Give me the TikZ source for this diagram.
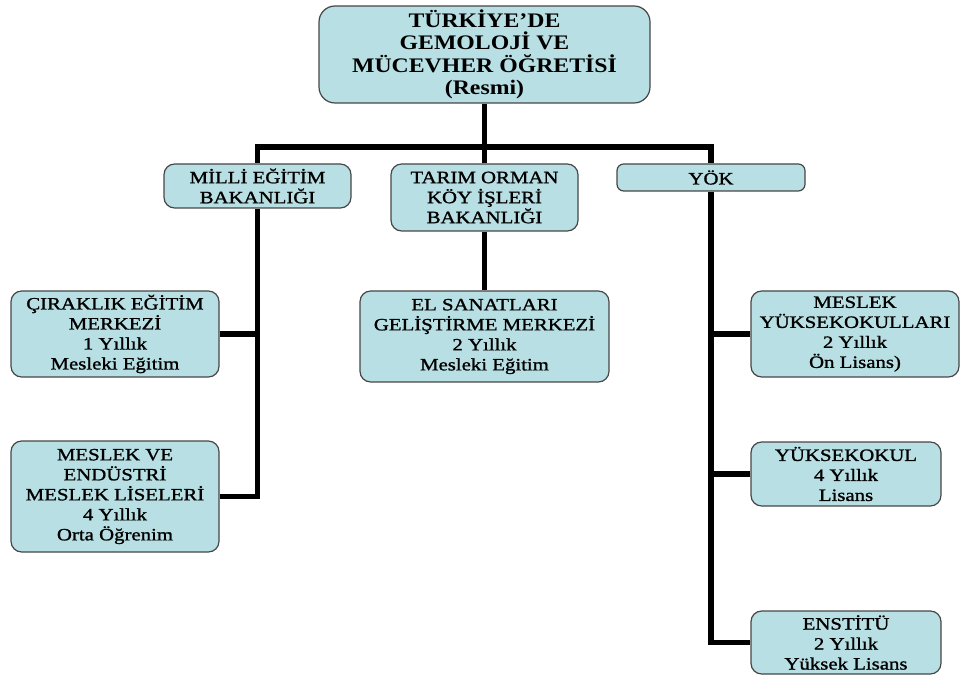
\documentclass[tikz,border=0pt]{standalone}
\usepackage{fontspec}
\setmainfont{Liberation Serif}
\newfontfamily\titlefont[FakeStretch=1.15]{Liberation Serif}
\newfontfamily\lowfont[FakeStretch=1.2,FakeBold=1.2]{Liberation Serif}
\definecolor{boxfill}{RGB}{184,223,227}
\definecolor{boxline}{RGB}{70,70,70}
\begin{document}
\begin{tikzpicture}[x=0.75pt,y=-0.75pt,
  box/.style={draw=boxline, line width=0.9pt, fill=boxfill, rounded corners=8pt,
    inner sep=0pt, align=center, anchor=center},
  titlebox/.style={box, rounded corners=12pt, font=\titlefont\bfseries\fontsize{15.5}{16.8}\selectfont},
  midbox/.style={box, font=\lowfont\fontsize{13}{15}\selectfont},
  lowbox/.style={box, font=\lowfont\fontsize{13}{15}\selectfont},
  conn/.style={line width=3.8pt, black, line join=miter}]
\useasboundingbox (0,0) rectangle (961,677);
% nodes
\node[titlebox, minimum width=248.25pt, minimum height=72.75pt] (top) at (484.5,54.5)
  {TÜRKİYE’DE\\GEMOLOJİ VE\\MÜCEVHER ÖĞRETİSİ\\(Resmi)};
\node[midbox, minimum width=140.25pt, minimum height=33pt] (meb) at (257.5,186)
  {MİLLİ EĞİTİM\\BAKANLIĞI};
\node[midbox, minimum width=140.25pt, minimum height=50.25pt] (tarim) at (484.5,197.5)
  {TARIM ORMAN\\KÖY İŞLERİ\\BAKANLIĞI};
\node[midbox, rounded corners=5pt, minimum width=141pt, minimum height=20.25pt] (yok) at (711,177.5)
  {YÖK};
\node[lowbox, minimum width=156pt, minimum height=64.5pt] (cirak) at (115,334)
  {ÇIRAKLIK EĞİTİM\\MERKEZİ\\1 Yıllık\\Mesleki Eğitim};
\node[lowbox, minimum width=156pt, minimum height=83.25pt] (mve) at (115,496.5)
  {MESLEK VE\\ENDÜSTRİ\\MESLEK LİSELERİ\\4 Yıllık\\Orta Öğrenim};
\node[lowbox, minimum width=186.75pt, minimum height=68.25pt] (elsan) at (484.5,336.5)
  {EL SANATLARI\\GELİŞTİRME MERKEZİ\\2 Yıllık\\Mesleki Eğitim};
\node[lowbox, minimum width=156pt, minimum height=64.5pt] (myo) at (855,334)
  {MESLEK\\YÜKSEKOKULLARI\\2 Yıllık\\Ön Lisans)};
\node[lowbox, minimum width=142.5pt, minimum height=48pt] (yo) at (846,474)
  {YÜKSEKOKUL\\4 Yıllık\\Lisans};
\node[lowbox, minimum width=142.5pt, minimum height=47.25pt] (enst) at (846,642.5)
  {ENSTİTÜ\\2 Yıllık\\Yüksek Lisans};
% connectors
\coordinate (bar) at (484.5,147);
\draw[conn] (top.south) -- (tarim.north);
\draw[conn] (meb.north) |- (bar) -| (yok.north);
\draw[conn] (tarim.south) -- (elsan.north);
\draw[conn] (meb.south) |- (mve.east);
\draw[conn] (cirak.east) -- (cirak.east -| meb.south);
\draw[conn] (yok.south) |- (enst.west);
\draw[conn] (myo.west) -- (myo.west -| yok.south);
\draw[conn] (yo.west) -- (yo.west -| yok.south);
\end{tikzpicture}
\end{document}
